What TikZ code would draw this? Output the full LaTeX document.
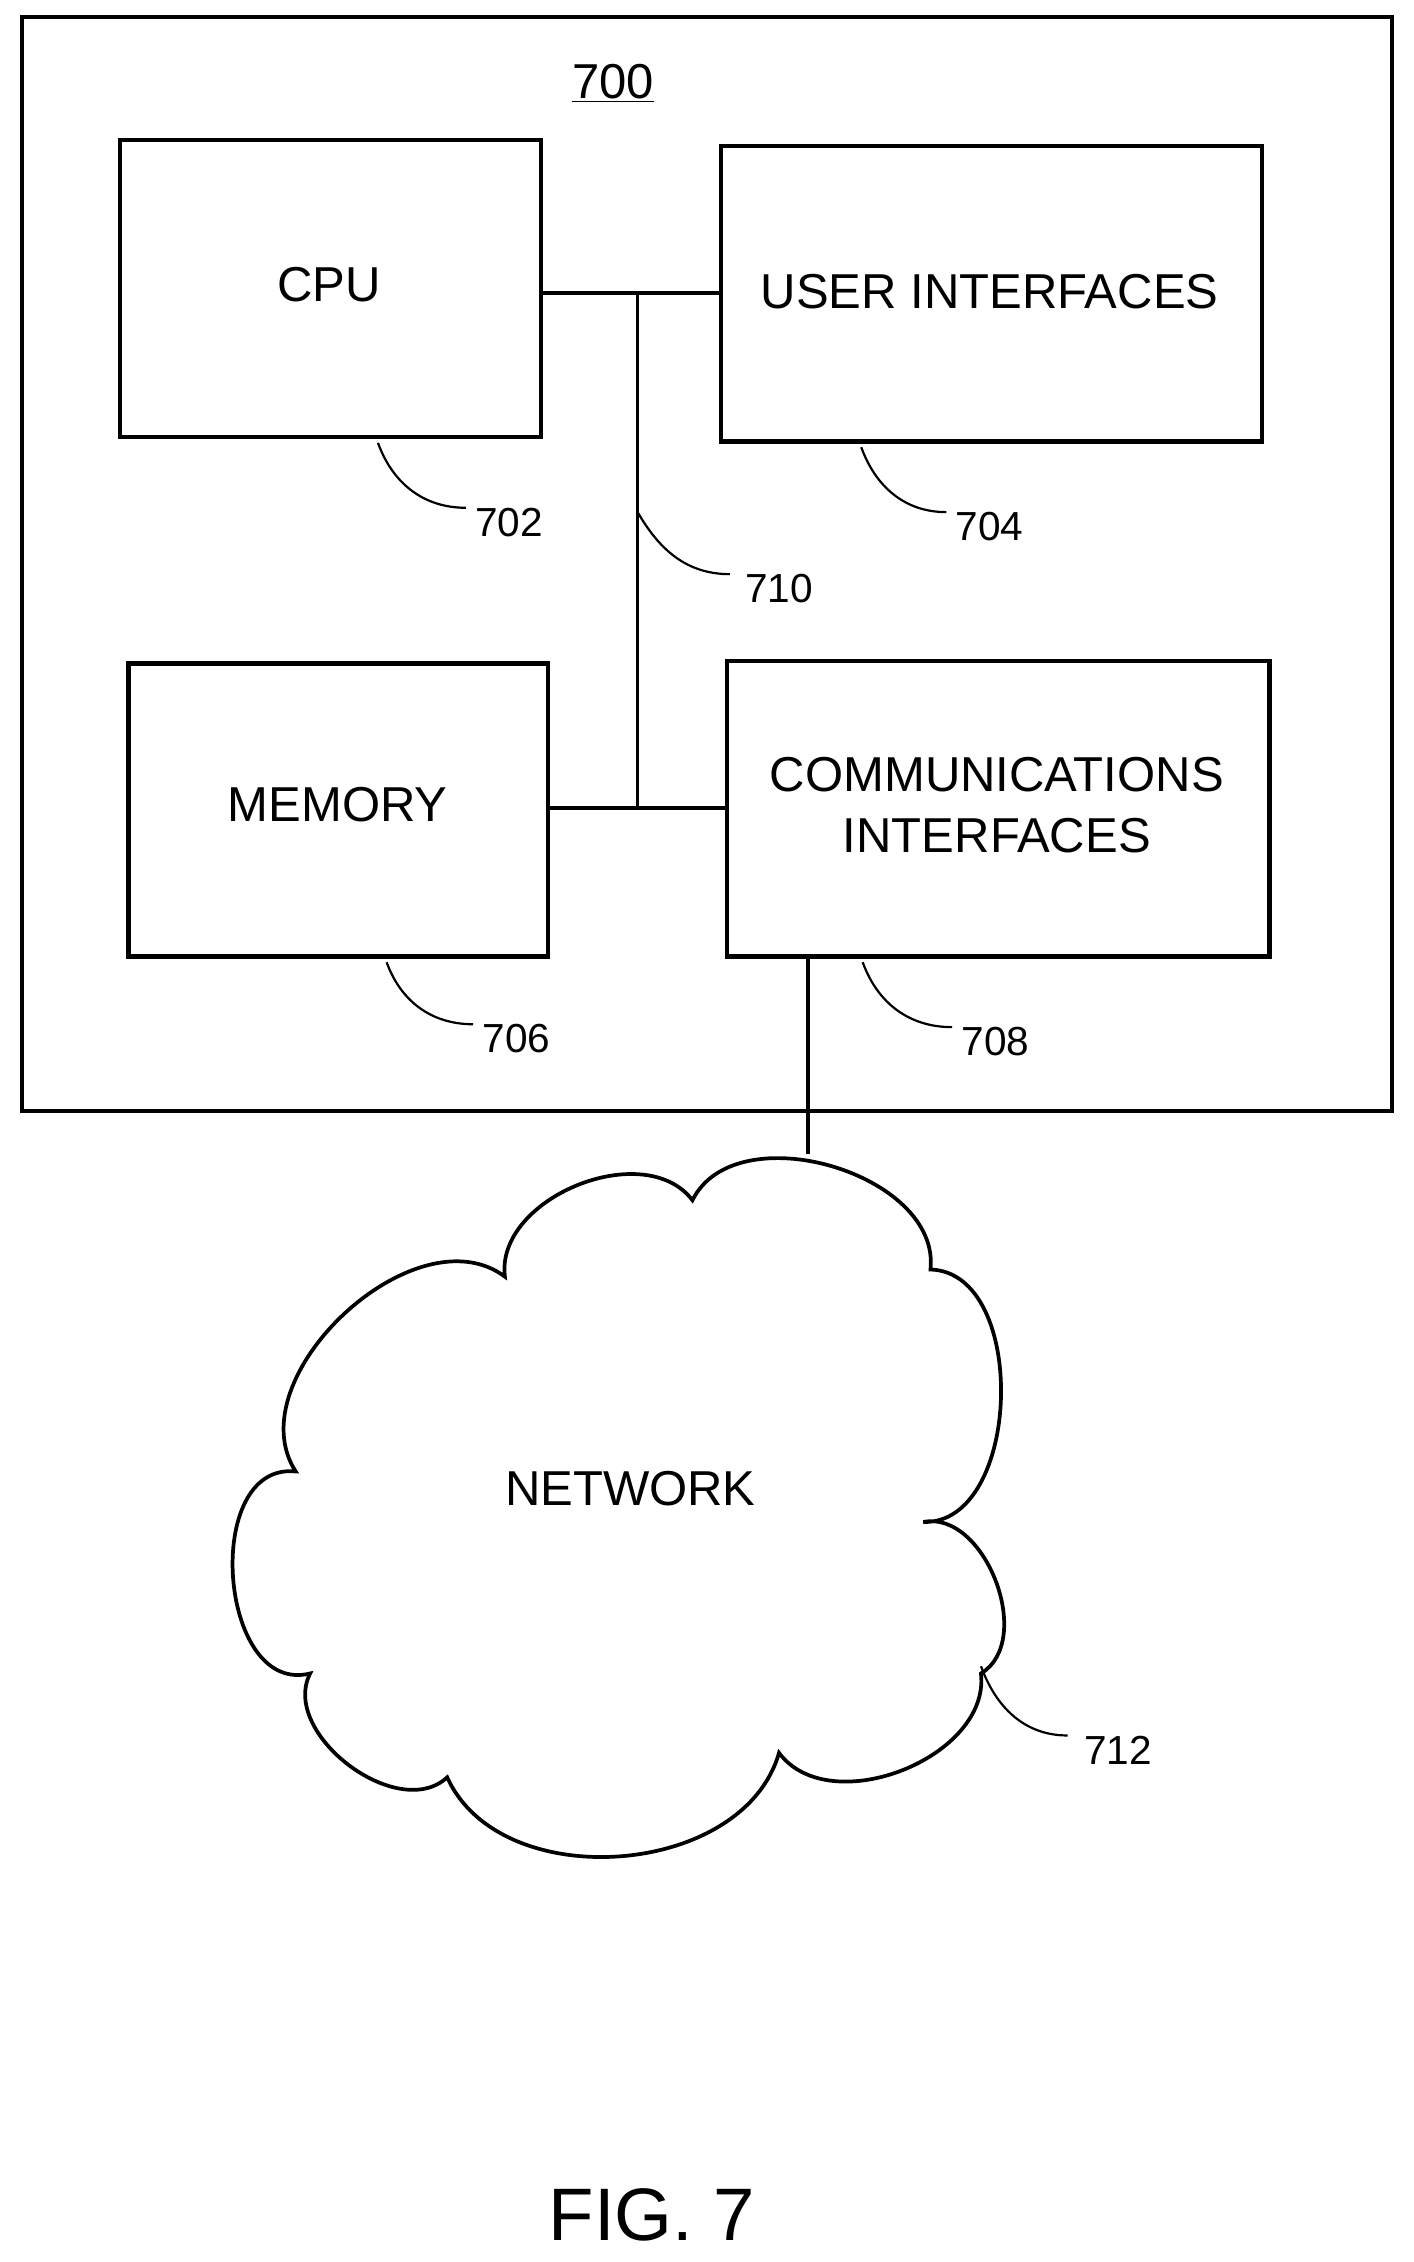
\documentclass[tikz,border=0pt]{standalone}
\usepackage{fontspec}
\setmainfont{Liberation Sans}
\begin{document}
\begin{tikzpicture}[x=0.03cm,y=-0.03cm,line width=2.2pt,
 box/.style={draw,line width=2.5pt},
 lbl/.style={font=\fontsize{29}{36}\selectfont,align=center},
 num/.style={font=\fontsize{24}{28}\selectfont},
 lead/.style={line width=1.3pt}]
\useasboundingbox (0,0) rectangle (980,1568);
\draw[box] (15,12) rectangle (965,770);
\node[font=\fontsize{29}{34}\selectfont] (n700) at (425,58) {\underline{700}};
\draw[box] (83,97) rectangle (375,303); \node[lbl] (cpu) at (228,197) {CPU};
\draw[box] (500,101) rectangle (875,306); \node[lbl] (ui) at (686,202) {USER INTERFACES};
\draw[box] (89,460) rectangle (380,663); \node[lbl] (mem) at (234,558) {MEMORY};
\draw[box] (504,458) rectangle (880,663); \node[lbl] (comm) at (691,558) {COMMUNICATIONS\\INTERFACES};
\coordinate (bt) at (442,203); \coordinate (bb) at (442,560);
\draw (bt) -- (bb);
\draw (375,203) -- (500,203);
\draw (380,560) -- (504,560);
\draw (560,663) -- (560,800);
% leaders
\node[num] (l702) at (353,362) {702};
\node[num] (l704) at (686,365) {704};
\node[num] (l710) at (540,408) {710};
\node[num] (l706) at (358,720) {706};
\node[num] (l708) at (690,722) {708};
\node[num] (l712) at (775,1213) {712};
\draw[lead] (262,307) to[out=-70,in=180] (323,352);
\draw[lead] (597,310) to[out=-70,in=180] (656,355);
\draw[lead] (442,355) to[out=-60,in=180] (506,398);
\draw[lead] (268,667) to[out=-70,in=180] (328,710);
\draw[lead] (598,667) to[out=-70,in=180] (660,712);
\draw[lead] (680,1155) to[out=-70,in=180] (740,1203);
% cloud
\draw[line width=2.2pt] (350,885) to[bend left=75] (480,832)
 to[bend left=80] (645,880) to[bend left=90] (640,1055)
 to[bend left=80] (680,1160) to[bend left=75] (540,1215)
 to[bend left=70] (310,1232) to[bend left=80] (215,1160)
 to[bend left=100,looseness=1.2] (205,1020) to[bend left=80] (350,885) -- cycle;
\node[lbl] (net) at (437,1032) {NETWORK};
\node[font=\fontsize{44}{50}\selectfont] (fig) at (452,1535) {FIG. 7};
\end{tikzpicture}
\end{document}
